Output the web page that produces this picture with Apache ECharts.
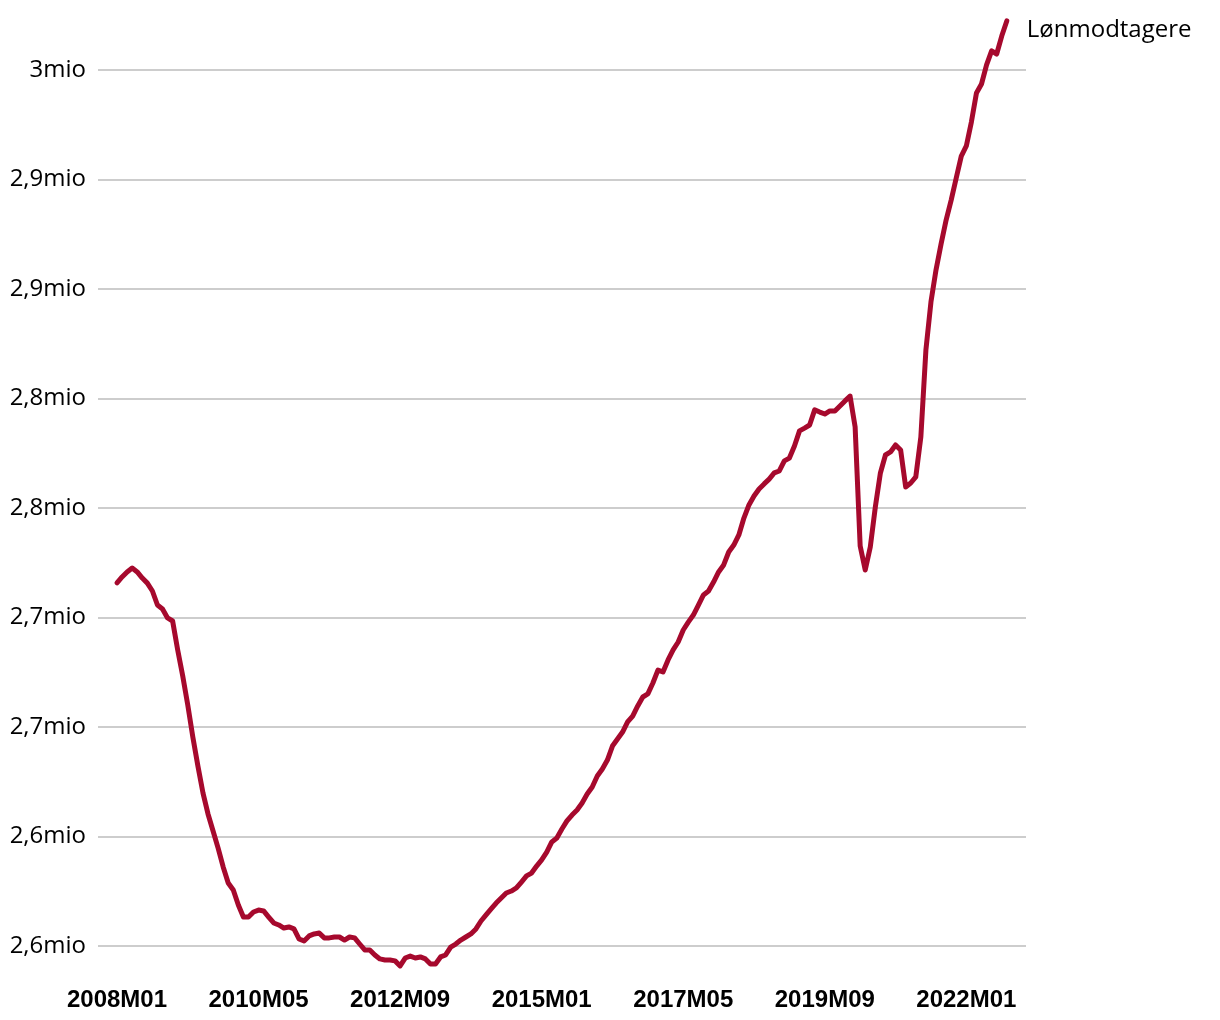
<!DOCTYPE html>
<html>
<head>
<meta charset="utf-8">
<script src="https://cdn.jsdelivr.net/npm/echarts@6/dist/echarts.min.js"></script>
<style>
html,body{margin:0;padding:0;background:#fff;}
#chart{width:1220px;height:1020px;}
</style>
</head>
<body>
<div id="chart"></div>
<script>
// Monthly series 2008M01 .. 2022M09
const startYear = 2008;
const seriesName = 'Lønmodtagere';
const values = [
2765800,2768500,2770800,2772600,2770800,2768000,2765700,2762100,2755700,2753900,2749800,2748400,
2735200,2723300,2710000,2695400,2682200,2669900,2660300,2652500,2644700,2636100,2628800,2625600,
2618700,2613200,2613200,2615500,2616400,2616000,2613200,2610500,2609600,2608200,2608700,2607800,
2603200,2602300,2604600,2605500,2605900,2603700,2603700,2604100,2604100,2602700,2604100,2603700,
2600900,2598200,2598200,2595900,2594100,2593600,2593600,2593200,2590900,2594500,2595400,2594500,
2595000,2594100,2591800,2591800,2595000,2595900,2599500,2600900,2602700,2604100,2605500,2607800,
2611400,2614200,2616900,2619600,2621900,2624200,2625100,2626500,2629200,2632000,2633300,2636500,
2639300,2642900,2647500,2649300,2653400,2657100,2659800,2662100,2665300,2669400,2672600,2677600,
2680800,2684900,2691300,2694500,2697700,2702300,2705000,2709600,2713700,2715100,2720100,2726000,
2725100,2730600,2735200,2738800,2744300,2747900,2751100,2755700,2760300,2762100,2766200,2770800,
2774000,2779900,2783100,2787700,2795400,2801400,2805500,2808700,2811000,2813200,2816000,2816900,
2821500,2822800,2828300,2835200,2836500,2837900,2844800,2843800,2842900,2844300,2844300,2846600,
2848900,2851100,2837000,2782600,2771700,2782200,2800500,2816000,2824200,2825600,2828800,2826500,
2809600,2811400,2814200,2832400,2872100,2894100,2908700,2920500,2931500,2940600,2950700,2960700,
2965300,2976300,2989500,2993600,3002300,3008700,3007300,3015500,3022400
];
const months = values.map((v, i) => {
  const y = startYear + Math.floor(i / 12);
  const m = (i % 12) + 1;
  return y + 'M' + (m < 10 ? '0' + m : '' + m);
});
const xTickLabels = ['2008M01','2010M05','2012M09','2015M01','2017M05','2019M09','2022M01'];
const yTickValues = [2600000,2650000,2700000,2750000,2800000,2850000,2900000,2950000,3000000];
const yTickLabels = ['2,6mio','2,6mio','2,7mio','2,7mio','2,8mio','2,8mio','2,9mio','2,9mio','3mio'];

const xTickIdx = xTickLabels.map(l => months.indexOf(l));
const seriesData = values.map((v, i) => [i, v]);

const chart = echarts.init(document.getElementById('chart'));
chart.setOption({
  animation: false,
  backgroundColor: '#ffffff',
  grid: { left: 98, right: 194, top: 20, bottom: 40, containLabel: false },
  xAxis: {
    type: 'value',
    min: -3.76,
    max: 179.8,
    axisLine: { show: false },
    axisTick: { show: false, customValues: xTickIdx },
    splitLine: { show: false },
    axisLabel: {
      customValues: xTickIdx,
      margin: 8,
      color: '#000',
      fontFamily: 'Liberation Sans',
      fontWeight: 'bold',
      fontSize: 24,
      formatter: v => months[Math.round(v)] || ''
    }
  },
  yAxis: {
    type: 'value',
    min: 2584470,
    max: 3022830,
    axisLine: { show: false },
    axisTick: { show: false, customValues: yTickValues },
    splitLine: { show: true, lineStyle: { color: '#bdbdbd', width: 1.5 } },
    axisLabel: {
      customValues: yTickValues,
      margin: 12,
      color: '#000',
      fontFamily: 'Open Sans',
      fontSize: 24,
      formatter: v => {
        const k = yTickValues.indexOf(v);
        return k >= 0 ? yTickLabels[k] : '';
      }
    }
  },
  series: [{
    name: seriesName,
    type: 'line',
    data: seriesData,
    showSymbol: false,
    clip: false,
    lineStyle: { color: '#a6092d', width: 5, cap: 'round', join: 'round' },
    itemStyle: { color: '#a6092d' },
    endLabel: {
      show: true,
      formatter: seriesName,
      distance: 20,
      offset: [0, 9],
      color: '#000',
      fontFamily: 'Open Sans',
      fontSize: 24
    }
  }]
});
</script>
</body>
</html>
